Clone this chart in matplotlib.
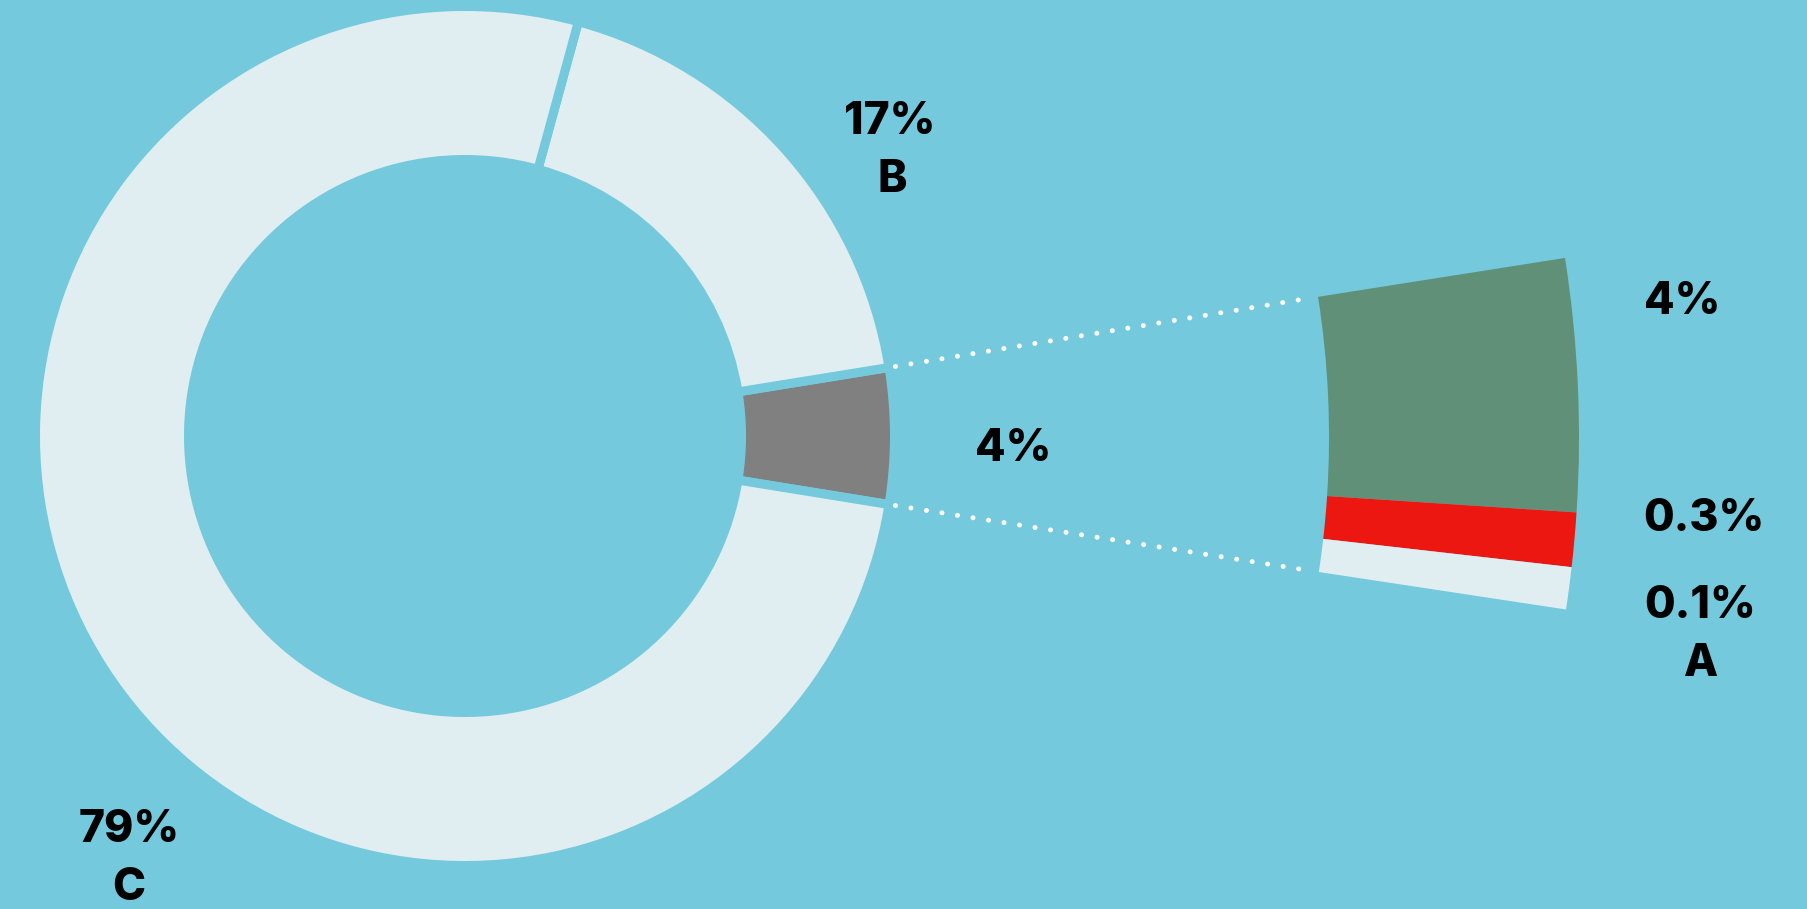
import numpy as np
import matplotlib
matplotlib.use("Agg")
import matplotlib.pyplot as plt

# main donut: share of circle (%) for Other, B, C
main_names = ["Other", "B", "C"]
main_values = [5.1, 18.2, 76.7]
main_colors = ["#808080", "#E0EEF2", "#E0EEF2"]

# breakdown of "Other" (share of circle, %)
sub_names = ["green", "red", "A"]
sub_values = [3.53, 0.76, 0.59]
sub_colors = ["#619078", "#EC1710", "#E0EEF2"]

# label lines and their centres (pixels)
label_texts = ["79%", "C", "17%", "B", "4%", "4%", "0.3%", "0.1%", "A"]
label_x = [129, 129, 890, 892, 1013, 1682, 1704, 1700, 1701]
label_y = [826, 884, 118, 175, 445, 297, 515, 602, 660]

bg = "#74CADC"
W, H = 1808, 909

# geometry (pixels)
main_center = (465, 436)
main_r_out, main_r_in = 425, 281
sub_center = (428, 437)
sub_r_out, sub_r_in = 1151, 901
sub_start = -8.95  # degrees, top edge of the breakdown ring
gap = 9  # px
cap_h = 33  # px

fig = plt.figure(figsize=(W / 100, H / 100), dpi=100, facecolor=bg)
ax = fig.add_axes([0, 0, 1, 1])
ax.set_facecolor(bg)

lw_pt = gap * 72 / 100
ax.pie(main_values, colors=main_colors, center=main_center,
       radius=main_r_out + gap / 2, startangle=main_values[0] / 100 * 180,
       counterclock=False, normalize=True,
       wedgeprops=dict(width=main_r_out - main_r_in + gap, edgecolor=bg,
                       linewidth=lw_pt))

ax.pie([v / 100 for v in sub_values], colors=sub_colors, center=sub_center,
       radius=sub_r_out, startangle=sub_start, counterclock=True, normalize=False,
       wedgeprops=dict(width=sub_r_out - sub_r_in, linewidth=0))

# dotted connectors between the two rings
main_half = main_values[0] / 100 * 180
sub_end = sub_start + sum(sub_values) / 100 * 360
for a0, a1 in ((-main_half, sub_start), (main_half, sub_end)):
    a0, a1 = np.deg2rad(a0), np.deg2rad(a1)
    x0 = main_center[0] + (main_r_out + 11) * np.cos(a0)
    y0 = main_center[1] + (main_r_out + 11) * np.sin(a0)
    x1 = sub_center[0] + (sub_r_in - 11) * np.cos(a1)
    y1 = sub_center[1] + (sub_r_in - 11) * np.sin(a1)
    ax.plot([x0, x1], [y0, y1], color="white", linewidth=3.6,
            linestyle=(0, (0.01, 3.13)), dash_capstyle="round")

for txt, x, y in zip(label_texts, label_x, label_y):
    ax.text(x, y + cap_h / 2, txt, ha="center", va="baseline", fontsize=32,
            fontweight="heavy", family="Inter", color="black")

ax.set_xlim(0, W)
ax.set_ylim(H, 0)
ax.set_aspect("equal")
ax.axis("off")

fig.savefig("out.png", dpi=100, facecolor=bg)
